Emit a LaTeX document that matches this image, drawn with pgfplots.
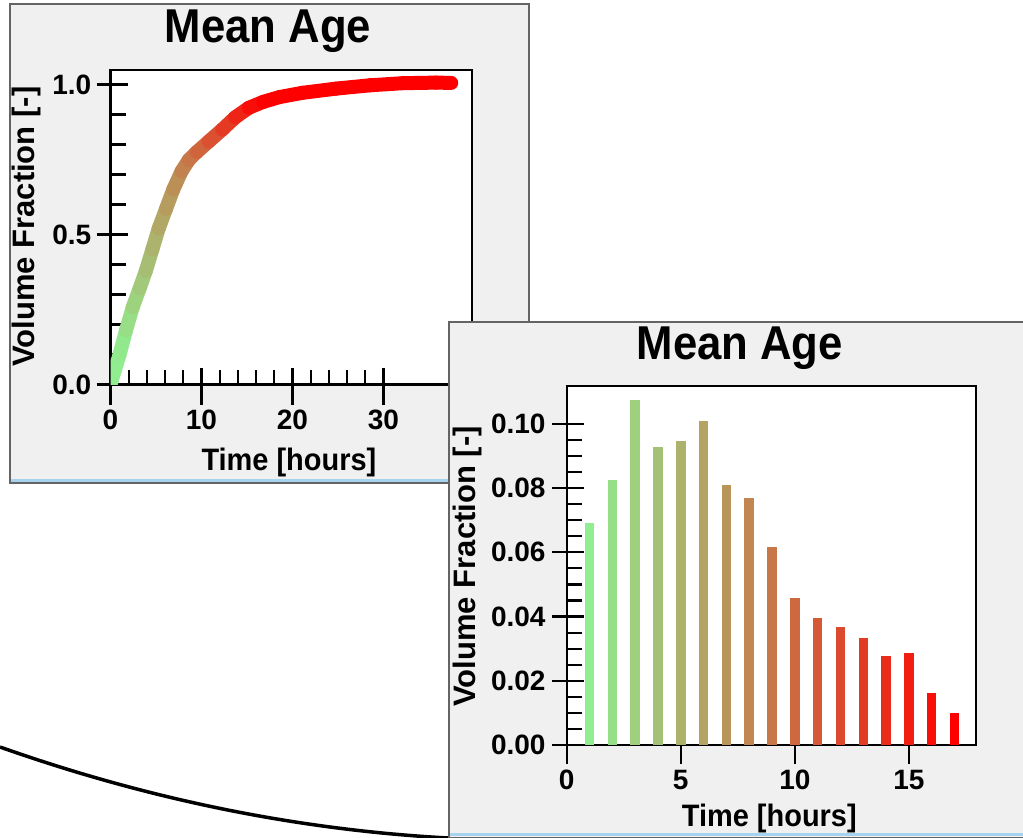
\documentclass[border=0pt]{standalone}
\usepackage{fontspec}
\setmainfont{Liberation Sans}
\usepackage{graphicx}
\usepackage{pgfplots}
\pgfplotsset{compat=1.18}
\definecolor{panelbg}{RGB}{240,240,240}
\definecolor{panelbd}{RGB}{100,100,100}
\definecolor{stripe}{RGB}{166,212,240}
\definecolor{lg}{RGB}{144,238,144}

\pgfplotstableread{
x y c
0 0 1
1.0 0.10 1
1.7 0.18 1.7
2.45 0.258 2.45
3.2 0.32 3.2
3.9 0.38 3.9
4.6 0.45 4.6
5.3 0.52 5.3
6.1 0.585 6.1
6.9 0.65 6.9
7.8 0.71 7.8
8.6 0.748 8.6
9.5 0.775 9.5
10.8 0.81 10.8
12.3 0.85 12.3
13.7 0.89 13.7
15.2 0.922 15.2
16.8 0.942 16.8
18.6 0.958 17
21.1 0.972 17
24.8 0.986 17
28.5 0.997 17
32.1 1.004 17
35.8 1.006 17
37.45 1.005 17
}\cumtable

\pgfplotsset{
  panelaxis/.style={
    scale only axis,
    axis background/.style={fill=white},
    axis line style={line width=2.2pt, black},
    every tick/.style={line width=2.2pt, black},
    tick align=inside,
    major tick length=17pt,
    minor tick length=15pt,
    tick pos=left,
    /pgf/number format/assume math mode=true,
    tick label style={font=\fontsize{28}{30}\selectfont\bfseries, inner sep=0pt, black},
    xticklabel style={anchor=north, yshift=-25pt},
    title style={font=\fontsize{47.5}{50}\selectfont\bfseries, anchor=base, inner sep=0pt},
    label style={font=\fontsize{31}{33}\selectfont\bfseries, inner sep=0pt},
    xlabel style={anchor=base},
    ylabel style={anchor=base},
    extra x tick labels={},
    extra y tick labels={},
  }
}

\begin{document}
\begin{tikzpicture}
\path[use as bounding box] (0pt,0pt) rectangle (1023pt,-838pt);
\clip (0pt,0pt) rectangle (1023pt,-838pt);
\fill[white] (0pt,0pt) rectangle (1023pt,-838pt);

% ---------- upper panel ----------
\fill[panelbg] (9.5pt,-4pt) rectangle (529pt,-482.5pt);
\fill[stripe] (10.5pt,-479pt) rectangle (528pt,-481.5pt);
\draw[panelbd, line width=2pt] (9.5pt,-4pt) rectangle (529pt,-482.5pt);

\begin{axis}[panelaxis,
  at={(110.5pt,-384.5pt)}, anchor=south west,
  width=361.2pt, height=314.5pt,
  xmin=0, xmax=39.7, ymin=0, ymax=1.048,
  xtick={0,10,20,30}, minor x tick num=4,
  ytick={0,0.5,1}, minor y tick num=4,
  yticklabel style={/pgf/number format/fixed, /pgf/number format/fixed zerofill, /pgf/number format/precision=1, anchor=east, xshift=-19pt},
  extra x ticks={0,10,20,30},
  extra x tick style={tick align=outside, major tick length=20pt},
  extra y ticks={0,0.5,1},
  extra y tick style={tick align=outside, major tick length=14pt},
  title={\scalebox{0.92}[1]{Mean Age}},
  title style={at={(0.436,1.069)}},
  xlabel={\scalebox{0.934}[1]{Time [hours]}},
  xlabel style={at={(0.494,-0.272)}},
  ylabel={Volume Fraction [-]},
  ylabel style={at={(-0.211,0.502)}},
]
\addplot[mesh, point meta=\thisrow{c}, point meta min=1, point meta max=17,
  line width=14pt, line cap=round, line join=round,
  colormap={gr}{rgb255=(144,238,144) rgb255=(255,0,0)}] table[x=x, y=y] {\cumtable};
\end{axis}

% decorative arc
\draw[line width=3.5pt, black] (0pt,-747pt) .. controls (150pt,-800pt) and (300pt,-830pt) .. (448pt,-838pt);

% ---------- lower panel ----------
\fill[panelbg] (449pt,-321.7pt) rectangle (1023pt,-837.5pt);
\fill[stripe] (450pt,-832.7pt) rectangle (1023pt,-836pt);
\draw[panelbd, line width=2pt] (1030pt,-321.7pt) -- (449pt,-321.7pt) -- (449pt,-837.5pt) -- (1030pt,-837.5pt);

\begin{axis}[panelaxis,
  at={(566.7pt,-745pt)}, anchor=south west,
  width=409.3pt, height=358.7pt,
  xmin=0, xmax=17.94, ymin=0, ymax=0.1117,
  xtick={0,5,10,15},
  ytick={0,0.02,0.04,0.06,0.08,0.10}, minor y tick num=3,
  yticklabel style={/pgf/number format/fixed, /pgf/number format/fixed zerofill, /pgf/number format/precision=2, anchor=east, xshift=-21pt},
  extra x ticks={0,5,10,15},
  extra x tick style={tick align=outside, major tick length=19pt},
  extra y ticks={0,0.02,0.04,0.06,0.08,0.10},
  extra y tick style={tick align=outside, major tick length=14.7pt},
  title={\scalebox{0.92}[1]{Mean Age}},
  title style={at={(0.423,1.057)}},
  xlabel={\scalebox{0.934}[1]{Time [hours]}},
  xlabel style={at={(0.495,-0.227)}},
  ylabel={Volume Fraction [-]},
  ylabel style={at={(-0.2226,0.498)}},
  every axis plot/.append style={ybar, bar width=9.5pt, bar shift=0pt, draw=none},
]
\addplot[fill=red!0!lg] coordinates {(1,0.0692)};
\addplot[fill=red!6.25!lg] coordinates {(2,0.0824)};
\addplot[fill=red!12.5!lg] coordinates {(3,0.1073)};
\addplot[fill=red!18.75!lg] coordinates {(4,0.0927)};
\addplot[fill=red!25!lg] coordinates {(5,0.0948)};
\addplot[fill=red!31.25!lg] coordinates {(6,0.1010)};
\addplot[fill=red!37.5!lg] coordinates {(7,0.0811)};
\addplot[fill=red!43.75!lg] coordinates {(8,0.0769)};
\addplot[fill=red!50!lg] coordinates {(9,0.0616)};
\addplot[fill=red!56.25!lg] coordinates {(10,0.0457)};
\addplot[fill=red!62.5!lg] coordinates {(11,0.0395)};
\addplot[fill=red!68.75!lg] coordinates {(12,0.0367)};
\addplot[fill=red!75!lg] coordinates {(13,0.0333)};
\addplot[fill=red!81.25!lg] coordinates {(14,0.0278)};
\addplot[fill=red!87.5!lg] coordinates {(15,0.0285)};
\addplot[fill=red!93.75!lg] coordinates {(16,0.0161)};
\addplot[fill=red!100!lg] coordinates {(17,0.0099)};
\end{axis}
\end{tikzpicture}
\end{document}
